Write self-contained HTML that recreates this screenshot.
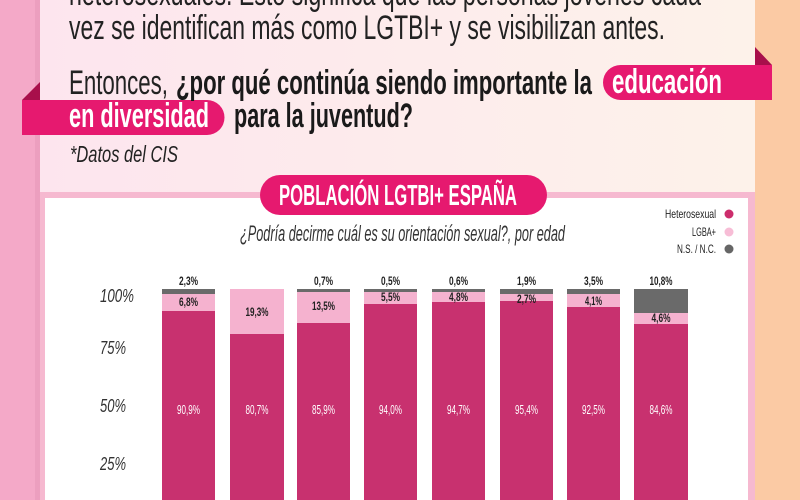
<!DOCTYPE html>
<html><head><meta charset="utf-8"><style>
html,body{margin:0;padding:0;width:800px;height:500px;overflow:hidden;background:#fff}
svg{display:block}
text{font-family:"Liberation Sans",sans-serif}
</style></head><body>
<svg width="800" height="500" viewBox="0 0 800 500" xmlns="http://www.w3.org/2000/svg">
<defs>
<linearGradient id="card" x1="0" y1="0" x2="1" y2="0">
<stop offset="0" stop-color="#fde5ee"/><stop offset="1" stop-color="#fdf2ea"/>
</linearGradient>
</defs>
<!-- outer backgrounds -->
<rect x="0" y="0" width="40" height="500" fill="#f4a9c8"/>
<rect x="35" y="0" width="5" height="500" fill="#ec9fbf"/>
<rect x="755" y="0" width="45" height="500" fill="#fbcaa4"/>
<!-- card -->
<rect x="40" y="0" width="715" height="500" fill="url(#card)"/>
<!-- chart frame -->
<rect x="40" y="192" width="715" height="308" fill="#f6b9d0"/>
<rect x="45" y="198" width="703" height="302" fill="#ffffff"/>

<!-- paragraph text -->
<text x="69" y="5" font-size="34" fill="#222" textLength="632" lengthAdjust="spacingAndGlyphs">heterosexuales. Esto significa que las personas jóvenes cada</text>
<text x="69" y="39" font-size="34" fill="#222" textLength="596" lengthAdjust="spacingAndGlyphs">vez se identifican más como LGTBI+ y se visibilizan antes.</text>

<!-- ribbons -->
<polygon points="755,47 772,65 755,65" fill="#a80f4b"/>
<path d="M620.5,65 H772 V100 H620.5 A17.5,17.5 0 0 1 620.5,65 Z" fill="#e6196f"/>
<polygon points="22,100 40,82 40,100" fill="#a80f4b"/>
<path d="M22,100 H207 A17.5,17.5 0 0 1 207,135 H22 Z" fill="#e6196f"/>

<text x="69" y="94" font-size="34" fill="#222" textLength="99" lengthAdjust="spacingAndGlyphs">Entonces,</text>
<text x="176" y="94" font-size="34" font-weight="bold" fill="#1a1a1a" textLength="416" lengthAdjust="spacingAndGlyphs">¿por qué continúa siendo importante la</text>
<text x="612" y="93" font-size="34" font-weight="bold" fill="#ffffff" textLength="110" lengthAdjust="spacingAndGlyphs">educación</text>
<text x="69" y="127" font-size="34" font-weight="bold" fill="#ffffff" textLength="140" lengthAdjust="spacingAndGlyphs">en diversidad</text>
<text x="234" y="127" font-size="34" font-weight="bold" fill="#1a1a1a" textLength="179" lengthAdjust="spacingAndGlyphs">para la juventud?</text>
<text x="70" y="162" font-size="23" font-style="italic" fill="#222" textLength="108" lengthAdjust="spacingAndGlyphs">*Datos del CIS</text>

<!-- title pill -->
<rect x="260" y="175" width="287" height="40" rx="20" ry="20" fill="#e6196f"/>
<text x="279" y="205" font-size="29" font-weight="bold" fill="#ffffff" textLength="238" lengthAdjust="spacingAndGlyphs">POBLACIÓN LGTBI+ ESPAÑA</text>

<!-- subtitle -->
<text x="240" y="241" font-size="22" font-style="italic" fill="#333" textLength="325" lengthAdjust="spacingAndGlyphs">¿Podría decirme cuál es su orientación sexual?, por edad</text>

<!-- legend -->
<text x="716" y="218" font-size="12" fill="#222" text-anchor="end" textLength="51" lengthAdjust="spacingAndGlyphs">Heterosexual</text>
<circle cx="729" cy="214" r="4.5" fill="#cc2d6c"/>
<text x="716" y="236" font-size="12" fill="#222" text-anchor="end" textLength="24" lengthAdjust="spacingAndGlyphs">LGBA+</text>
<circle cx="729" cy="232" r="4.5" fill="#f7bdd6"/>
<text x="716" y="253" font-size="12" fill="#222" text-anchor="end" textLength="39" lengthAdjust="spacingAndGlyphs">N.S. / N.C.</text>
<circle cx="729" cy="249" r="4.5" fill="#666666"/>

<!-- y axis labels -->
<g font-size="18" font-style="italic" fill="#333">
<text x="100" y="302" textLength="34" lengthAdjust="spacingAndGlyphs">100%</text>
<text x="100" y="354" textLength="26" lengthAdjust="spacingAndGlyphs">75%</text>
<text x="100" y="412" textLength="26" lengthAdjust="spacingAndGlyphs">50%</text>
<text x="100" y="470" textLength="26" lengthAdjust="spacingAndGlyphs">25%</text>
</g>

<!-- bars -->
<g>
<rect x="162" y="289" width="53" height="5" fill="#6a6a6a"/>
<rect x="162" y="294" width="53" height="17" fill="#f5b2cf"/>
<rect x="162" y="311" width="53" height="189" fill="#c8316f"/>
<rect x="230" y="289" width="54" height="45" fill="#f5b2cf"/>
<rect x="230" y="334" width="54" height="166" fill="#c8316f"/>
<rect x="297" y="289" width="53" height="3" fill="#6a6a6a"/>
<rect x="297" y="292" width="53" height="31" fill="#f5b2cf"/>
<rect x="297" y="323" width="53" height="177" fill="#c8316f"/>
<rect x="364" y="289" width="53" height="3" fill="#6a6a6a"/>
<rect x="364" y="292" width="53" height="12" fill="#f5b2cf"/>
<rect x="364" y="304" width="53" height="196" fill="#c8316f"/>
<rect x="432" y="289" width="53" height="3" fill="#6a6a6a"/>
<rect x="432" y="292" width="53" height="10" fill="#f5b2cf"/>
<rect x="432" y="302" width="53" height="198" fill="#c8316f"/>
<rect x="500" y="289" width="53" height="5" fill="#6a6a6a"/>
<rect x="500" y="294" width="53" height="7" fill="#f5b2cf"/>
<rect x="500" y="301" width="53" height="199" fill="#c8316f"/>
<rect x="567" y="289" width="53" height="5" fill="#6a6a6a"/>
<rect x="567" y="294" width="53" height="13" fill="#f5b2cf"/>
<rect x="567" y="307" width="53" height="193" fill="#c8316f"/>
<rect x="634" y="289" width="54" height="24" fill="#6a6a6a"/>
<rect x="634" y="313" width="54" height="11" fill="#f5b2cf"/>
<rect x="634" y="324" width="54" height="176" fill="#c8316f"/>
</g>

<!-- top labels -->
<g font-size="12" font-weight="bold" fill="#222" text-anchor="middle">
<text x="188.5" y="285" textLength="19" lengthAdjust="spacingAndGlyphs">2,3%</text>
<text x="323.5" y="285" textLength="19" lengthAdjust="spacingAndGlyphs">0,7%</text>
<text x="390.5" y="285" textLength="19" lengthAdjust="spacingAndGlyphs">0,5%</text>
<text x="458.5" y="285" textLength="19" lengthAdjust="spacingAndGlyphs">0,6%</text>
<text x="526.5" y="285" textLength="19" lengthAdjust="spacingAndGlyphs">1,9%</text>
<text x="593.5" y="285" textLength="19" lengthAdjust="spacingAndGlyphs">3,5%</text>
<text x="661" y="285" textLength="23" lengthAdjust="spacingAndGlyphs">10,8%</text>
</g>
<!-- pink labels -->
<g font-size="12" font-weight="bold" fill="#222" text-anchor="middle">
<text x="188.5" y="306" textLength="19" lengthAdjust="spacingAndGlyphs">6,8%</text>
<text x="257" y="316" textLength="23" lengthAdjust="spacingAndGlyphs">19,3%</text>
<text x="323.5" y="310" textLength="23" lengthAdjust="spacingAndGlyphs">13,5%</text>
<text x="390.5" y="301" textLength="19" lengthAdjust="spacingAndGlyphs">5,5%</text>
<text x="458.5" y="301" textLength="19" lengthAdjust="spacingAndGlyphs">4,8%</text>
<text x="526.5" y="303" textLength="19" lengthAdjust="spacingAndGlyphs">2,7%</text>
<text x="593.5" y="305" textLength="17" lengthAdjust="spacingAndGlyphs">4,1%</text>
<text x="661" y="322" textLength="19" lengthAdjust="spacingAndGlyphs">4,6%</text>
</g>
<!-- white labels -->
<g font-size="12.5" fill="#ffffff" text-anchor="middle">
<text x="188.5" y="414" textLength="23" lengthAdjust="spacingAndGlyphs">90,9%</text>
<text x="257" y="414" textLength="23" lengthAdjust="spacingAndGlyphs">80,7%</text>
<text x="323.5" y="414" textLength="23" lengthAdjust="spacingAndGlyphs">85,9%</text>
<text x="390.5" y="414" textLength="23" lengthAdjust="spacingAndGlyphs">94,0%</text>
<text x="458.5" y="414" textLength="23" lengthAdjust="spacingAndGlyphs">94,7%</text>
<text x="526.5" y="414" textLength="23" lengthAdjust="spacingAndGlyphs">95,4%</text>
<text x="593.5" y="414" textLength="23" lengthAdjust="spacingAndGlyphs">92,5%</text>
<text x="661" y="414" textLength="23" lengthAdjust="spacingAndGlyphs">84,6%</text>
</g>
</svg>
</body></html>
